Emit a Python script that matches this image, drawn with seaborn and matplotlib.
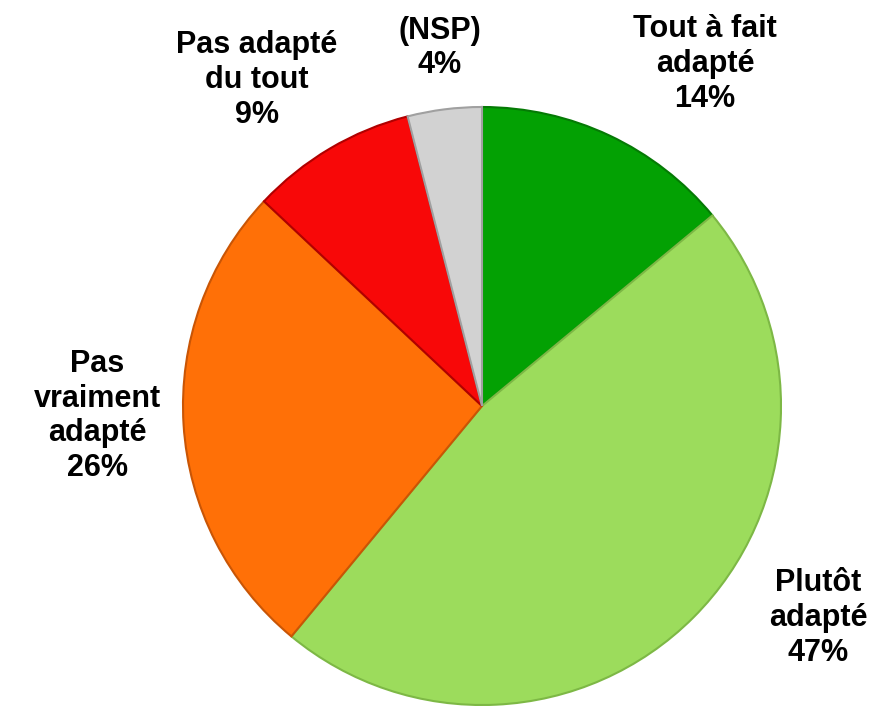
import matplotlib.pyplot as plt
import seaborn as sns

sns.set_theme(style='white')
plt.rcParams['font.family'] = ['Liberation Sans', 'DejaVu Sans']

labels = ['Tout à fait\nadapté', 'Plutôt\nadapté', 'Pas\nvraiment\nadapté',
          'Pas adapté\ndu tout', '(NSP)']
values = [14, 47, 26, 9, 4]
colors = ['#03A103', '#9CDC5C', '#FF7007', '#F80808', '#D2D2D2']
edges = ['#057A05', '#7DB845', '#C95505', '#B00000', '#A0A0A0']

# label positions in pixels (x, y from top)
label_pos = [(705, 64), (818, 618), (97, 416), (257, 80), (440, 48)]

W, H = 881, 711
fig = plt.figure(figsize=(W / 100, H / 100), dpi=100)
ax = fig.add_axes([0, 0, 1, 1])

wedges, _ = ax.pie(values, colors=colors, startangle=90, counterclock=False,
                   center=(482, H - 406), radius=299, frame=True,
                   wedgeprops={'linewidth': 1.5})
for w, e in zip(wedges, edges):
    w.set_edgecolor(e)

ax.set_xlim(0, W)
ax.set_ylim(0, H)
ax.set_aspect('equal')
ax.axis('off')

for lab, v, (x, y) in zip(labels, values, label_pos):
    ax.text(x, H - y, f'{lab}\n{v}%', ha='center', va='center', color='black',
            fontsize=22, fontweight='bold', linespacing=1.2)

fig.savefig('out.png', dpi=100)
